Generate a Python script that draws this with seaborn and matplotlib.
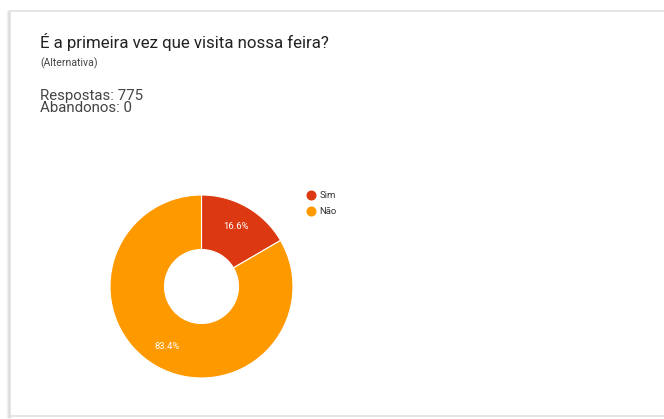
import matplotlib
matplotlib.use("Agg")
import matplotlib.pyplot as plt
from matplotlib.lines import Line2D
from matplotlib.patches import Rectangle
import seaborn as sns

# Survey answers
categories = ["Sim", "Não"]
shares = [16.6, 83.4]
colors = ["#DC3912", "#FF9900"]
title = "É a primeira vez que visita nossa feira?"
subtitle = "(Alternativa)"
respostas = 775
abandonos = 0

sns.set_theme(style="white")
plt.rcParams["font.family"] = ["Roboto", "DejaVu Sans"]

W, H = 664, 419
fig = plt.figure(figsize=(W / 100, H / 100), dpi=100)
fig.patch.set_facecolor("white")


def fx(x):
    return x / W


def fy(y):
    return 1 - y / H


# Card frame with soft left shadow (kept behind the chart axes)
for i, c in enumerate(["#f2f2f2", "#e4e4e4", "#d6d6d6"]):
    fig.patches.append(Rectangle((fx(7 + i), fy(417)), fx(1), 406 / H,
                                 transform=fig.transFigure, color=c,
                                 zorder=-3))
fig.patches.append(Rectangle((fx(10), fy(416)), fx(670), 405 / H,
                             transform=fig.transFigure, facecolor="white",
                             edgecolor="#e2e2e2", linewidth=1.2, zorder=-2))

# Header texts
fig.text(fx(40), fy(42), title, fontsize=12.2, color="#222222", va="center")
fig.text(fx(40), fy(63), subtitle, fontsize=7.6, color="#444444", va="center")
fig.text(fx(40), fy(102),
         f"Respostas: {respostas}\nAbandonos: {abandonos}",
         fontsize=10.8, color="#444444", va="center", linespacing=0.78)

# Donut chart
cx, cy, r = 201.5, 286.5, 91.5
ax = fig.add_axes([fx(cx - r), fy(cy + r), fx(2 * r), 2 * r / H])
wedges, _, autotexts = ax.pie(
    shares, colors=colors, startangle=90, counterclock=False, radius=1,
    autopct="%.1f%%", pctdistance=0.76,
    wedgeprops=dict(width=1 - 37 / r, edgecolor="white", linewidth=0.8),
    textprops=dict(color="white", fontsize=6.8),
)
ax.set_xlim(-1, 1)
ax.set_ylim(-1, 1)
ax.set_aspect("equal")
ax.axis("off")

# Legend with round markers
handles = [Line2D([0], [0], marker="o", linestyle="", markersize=6.2,
                  markerfacecolor=c, markeredgecolor=c) for c in colors]
leg = fig.legend(handles, categories, loc="upper left",
                 bbox_to_anchor=(fx(307), fy(191)), frameon=False,
                 fontsize=6.8, handlelength=0.8, handletextpad=0.5,
                 labelspacing=0.75, borderaxespad=0, borderpad=0)
for t in leg.get_texts():
    t.set_color("#333333")

fig.savefig("out.png", dpi=100, facecolor="white")
